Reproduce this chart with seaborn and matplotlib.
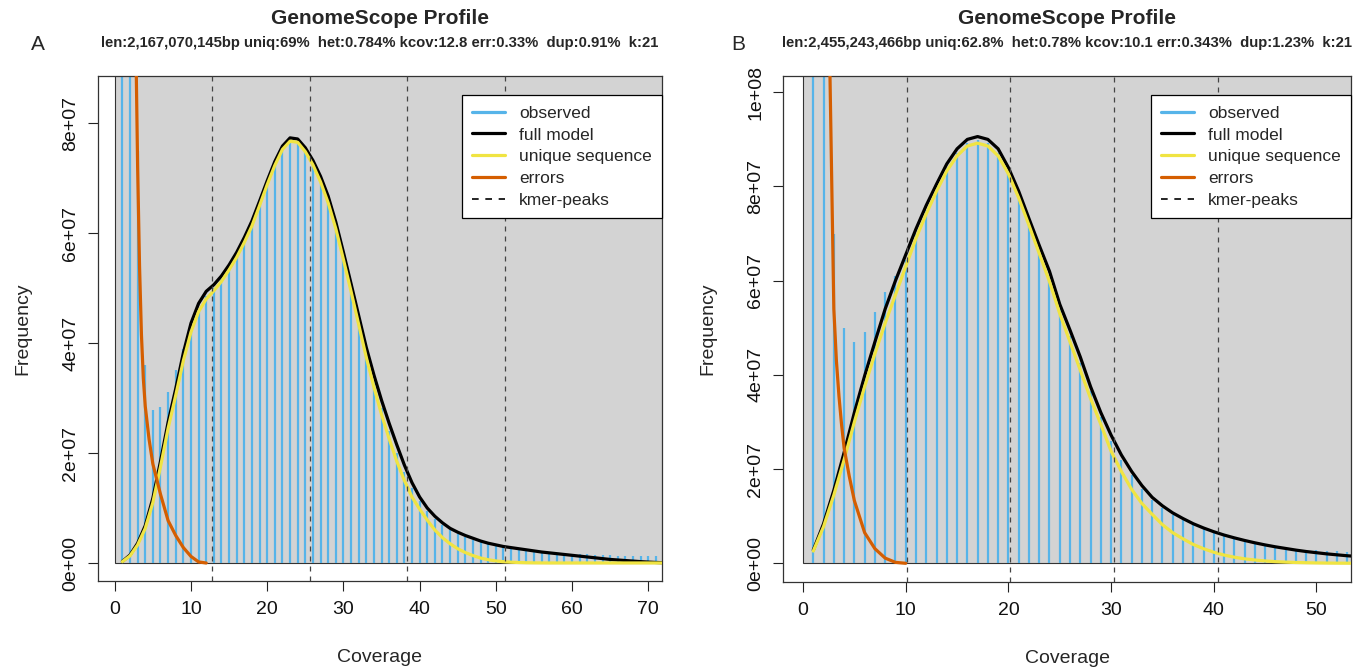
import numpy as np
import matplotlib
matplotlib.use("Agg")
import matplotlib.pyplot as plt
from matplotlib.patches import Rectangle
from matplotlib.lines import Line2D
import seaborn as sns

# ---- panel A: k-mer histogram + model fit ----
cov_a = list(range(1, 73))
obs_a = [2.5e8, 1.5e8, 7.5e7, 3.6e7, 2.78e7, 2.84e7, 3.11e7, 3.51e7, 3.9e7, 4.3e7,
         4.6e7, 4.85e7, 5.0e7, 5.18e7, 5.38e7, 5.6e7, 5.88e7, 6.17e7, 6.55e7, 6.92e7,
         7.27e7, 7.55e7, 7.7e7, 7.68e7, 7.5e7, 7.27e7, 6.98e7, 6.6e7, 6.12e7, 5.58e7,
         5.0e7, 4.4e7, 3.82e7, 3.3e7, 2.82e7, 2.4e7, 2.0e7, 1.65e7, 1.36e7, 1.12e7,
         9.4e6, 8.0e6, 6.9e6, 6.0e6, 5.3e6, 4.7e6, 4.2e6, 3.8e6, 3.5e6, 3.2e6,
         3.0e6, 2.8e6, 2.6e6, 2.45e6, 2.3e6, 2.15e6, 2.0e6, 1.9e6, 1.8e6, 1.7e6,
         1.6e6, 1.55e6, 1.5e6, 1.45e6, 1.4e6, 1.35e6, 1.3e6, 1.28e6, 1.25e6, 1.22e6,
         1.2e6, 1.18e6]
full_a = [3e5, 1.45e6, 3.6e6, 6.8e6, 1.18e7, 1.85e7, 2.56e7, 3.17e7, 3.82e7, 4.36e7,
          4.72e7, 4.94e7, 5.06e7, 5.22e7, 5.42e7, 5.65e7, 5.92e7, 6.22e7, 6.58e7, 6.95e7,
          7.3e7, 7.58e7, 7.73e7, 7.71e7, 7.55e7, 7.32e7, 7.03e7, 6.67e7, 6.2e7, 5.65e7,
          5.08e7, 4.5e7, 3.92e7, 3.42e7, 2.96e7, 2.54e7, 2.15e7, 1.78e7, 1.46e7, 1.2e7,
          1.0e7, 8.5e6, 7.3e6, 6.3e6, 5.6e6, 5.0e6, 4.5e6, 4.0e6, 3.6e6, 3.3e6,
          3.0e6, 2.8e6, 2.6e6, 2.4e6, 2.2e6, 2.0e6, 1.85e6, 1.7e6, 1.55e6, 1.4e6,
          1.25e6, 1.1e6, 9.5e5, 8e5, 6.5e5, 5.5e5, 4.5e5, 3.5e5, 2.5e5, 1.7e5,
          1e5, 5e4]
uniq_a = [2.5e5, 1.3e6, 3.3e6, 6.3e6, 1.1e7, 1.75e7, 2.45e7, 3.05e7, 3.68e7, 4.2e7,
          4.57e7, 4.8e7, 4.95e7, 5.12e7, 5.33e7, 5.56e7, 5.83e7, 6.13e7, 6.5e7, 6.88e7,
          7.23e7, 7.52e7, 7.67e7, 7.65e7, 7.48e7, 7.24e7, 6.93e7, 6.55e7, 6.08e7, 5.52e7,
          4.94e7, 4.34e7, 3.74e7, 3.2e7, 2.7e7, 2.26e7, 1.85e7, 1.5e7, 1.2e7, 9.8e6,
          7.8e6, 6.0e6, 4.6e6, 3.5e6, 2.6e6, 1.9e6, 1.35e6, 9e5, 6e5, 3.8e5,
          2.4e5, 1.5e5, 9e4, 5e4, 3e4, 2e4, 1e4, 1e4, 1e4, 1e4,
          1e4, 1e4, 1e4, 1e4, 1e4, 1e4, 1e4, 1e4, 1e4, 1e4,
          1e4, 1e4]
err_cov_a = [1, 2, 2.5, 3, 3.25, 3.5, 3.75, 4, 4.5, 5, 6, 7, 8, 9, 10, 11, 12]
err_a = [6e8, 2.6e8, 1.2e8, 7.2e7, 5.4e7, 4.15e7, 3.35e7, 2.85e7, 2.25e7, 1.8e7,
         1.25e7, 7.7e6, 5e6, 2.8e6, 1.2e6, 2e5, 0]
peaks_a = [12.8, 25.6, 38.4, 51.2]
sub_a = "len:2,167,070,145bp uniq:69%  het:0.784% kcov:12.8 err:0.33%  dup:0.91%  k:21"

# ---- panel B ----
cov_b = list(range(1, 55))
obs_b = [2.5e8, 1.5e8, 7.0e7, 5.0e7, 4.7e7, 4.92e7, 5.33e7, 5.75e7, 6.1e7, 6.45e7,
         7.0e7, 7.5e7, 8.0e7, 8.4e7, 8.72e7, 8.92e7, 8.98e7, 8.92e7, 8.72e7, 8.33e7,
         7.82e7, 7.25e7, 6.66e7, 6.08e7, 5.4e7, 4.82e7, 4.25e7, 3.65e7, 3.1e7, 2.6e7,
         2.2e7, 1.87e7, 1.58e7, 1.35e7, 1.17e7, 1.03e7, 9.2e6, 8.2e6, 7.3e6, 6.5e6,
         5.8e6, 5.2e6, 4.7e6, 4.2e6, 3.8e6, 3.4e6, 3.2e6, 3.0e6, 2.9e6, 2.8e6,
         2.7e6, 2.6e6, 2.5e6, 2.4e6]
full_b = [2.8e6, 8.4e6, 1.55e7, 2.35e7, 3.2e7, 3.98e7, 4.7e7, 5.4e7, 6.0e7, 6.55e7,
          7.1e7, 7.6e7, 8.05e7, 8.48e7, 8.8e7, 9.0e7, 9.06e7, 9.0e7, 8.8e7, 8.4e7,
          7.9e7, 7.32e7, 6.75e7, 6.2e7, 5.5e7, 4.95e7, 4.38e7, 3.75e7, 3.2e7, 2.72e7,
          2.3e7, 1.95e7, 1.65e7, 1.4e7, 1.22e7, 1.07e7, 9.5e6, 8.4e6, 7.5e6, 6.7e6,
          6.0e6, 5.4e6, 4.85e6, 4.35e6, 3.9e6, 3.5e6, 3.15e6, 2.8e6, 2.5e6, 2.25e6,
          2.0e6, 1.8e6, 1.6e6, 1.45e6]
uniq_b = [2.6e6, 7.8e6, 1.45e7, 2.2e7, 3.0e7, 3.75e7, 4.45e7, 5.1e7, 5.7e7, 6.3e7,
          6.9e7, 7.42e7, 7.9e7, 8.33e7, 8.65e7, 8.86e7, 8.92e7, 8.86e7, 8.65e7, 8.27e7,
          7.76e7, 7.18e7, 6.58e7, 5.98e7, 5.3e7, 4.7e7, 4.1e7, 3.5e7, 2.95e7, 2.38e7,
          1.95e7, 1.57e7, 1.27e7, 1.04e7, 8.2e6, 6.5e6, 5.2e6, 4.0e6, 3.1e6, 2.35e6,
          1.75e6, 1.3e6, 9.5e5, 7e5, 5e5, 3.5e5, 2.5e5, 1.7e5, 1.2e5, 8e4,
          5e4, 3e4, 2e4, 1e4]
err_cov_b = [1, 2, 2.5, 3, 3.25, 3.5, 3.75, 4, 4.5, 5, 6, 7, 8, 9, 10]
err_b = [5e8, 1.7e8, 1.2e8, 5.4e7, 4.3e7, 3.55e7, 2.95e7, 2.45e7, 1.85e7, 1.33e7,
         6.5e6, 3.1e6, 1.1e6, 2e5, 0]
peaks_b = [10.1, 20.2, 30.3, 40.4]
sub_b = "len:2,455,243,466bp uniq:62.8%  het:0.78% kcov:10.1 err:0.343%  dup:1.23%  k:21"

C_OBS = "#56B4E9"
C_FULL = "black"
C_UNIQ = "#F0E442"
C_ERR = "#D55E00"

sns.set_style("white")
plt.rcParams['font.family'] = ['Liberation Sans', 'DejaVu Sans']

W, H = 1367, 667
fig = plt.figure(figsize=(W / 100, H / 100), dpi=100)


def px_axes(x0, y0, x1, y1):
    return fig.add_axes([x0 / W, 1 - y1 / H, (x1 - x0) / W, (y1 - y0) / H])


def draw_panel(ax, cov, obs, full, uniq, err_cov, err, peaks, xlim, ylim, xticks, yticks, ylabels):
    ax.set_xlim(*xlim)
    ax.set_ylim(*ylim)
    # grey background rectangle starting at (0, 0)
    ax.add_patch(Rectangle((0, 0), 1000, 1e10, facecolor="lightgrey",
                           edgecolor="#333333", linewidth=0.8, zorder=0))
    # observed histogram, drawn as vertical lines
    ax.vlines(cov, 0, obs, color=C_OBS, linewidth=1.6, zorder=1)
    sns.lineplot(x=cov, y=full, color=C_FULL, linewidth=2.3, ax=ax,
                 estimator=None, sort=False, zorder=3)
    sns.lineplot(x=cov, y=uniq, color=C_UNIQ, linewidth=2.3, ax=ax,
                 estimator=None, sort=False, zorder=4)
    sns.lineplot(x=err_cov, y=err, color=C_ERR, linewidth=2.3, ax=ax,
                 estimator=None, sort=False, zorder=5)
    for p in peaks:
        ax.axvline(p, color="#444444", linewidth=0.9, linestyle=(0, (4, 4)), zorder=6)

    ax.set_xticks(xticks)
    ax.set_xticklabels([str(t) for t in xticks])
    ax.set_yticks(yticks)
    ax.set_yticklabels(ylabels, rotation=90, va="center")
    ax.tick_params(direction="out", length=7.5, width=0.8, labelsize=14, pad=6,
                   bottom=True, left=True, colors="#222222")
    ax.tick_params(axis="x", labelcolor="#111111", pad=7)
    ax.tick_params(axis="y", labelcolor="#111111")
    for s in ax.spines.values():
        s.set_visible(True)
        s.set_color("#333333")
        s.set_linewidth(0.9)
    ax.grid(False)
    ax.set_xlabel("Coverage", fontsize=14, labelpad=22)
    ax.set_ylabel("Frequency", fontsize=14, labelpad=22)

    handles = [Line2D([], [], color=C_OBS, lw=2.3),
               Line2D([], [], color=C_FULL, lw=2.3),
               Line2D([], [], color=C_UNIQ, lw=2.3),
               Line2D([], [], color=C_ERR, lw=2.3),
               Line2D([], [], color="black", lw=1.2, linestyle=(0, (4, 4)))]
    labels = ["observed", "full model", "unique sequence", "errors", "kmer-peaks"]
    leg = ax.legend(handles, labels, loc="upper right", bbox_to_anchor=(1.0, 0.962),
                    borderaxespad=0, fontsize=12.5, frameon=True, fancybox=False,
                    edgecolor="black", framealpha=1, handlelength=1.9,
                    handletextpad=0.8, labelspacing=0.38, borderpad=0.6)
    leg.get_frame().set_linewidth(0.9)
    leg.set_zorder(10)


# panel A
axA = px_axes(98, 76, 662, 581)
draw_panel(axA, cov_a, obs_a, full_a, uniq_a, err_cov_a, err_a, peaks_a,
           (-2.2, 71.8), (-3.27e6, 8.855e7), [0, 10, 20, 30, 40, 50, 60, 70],
           [0, 2e7, 4e7, 6e7, 8e7], ["0e+00", "2e+07", "4e+07", "6e+07", "8e+07"])

# panel B
axB = px_axes(783, 76, 1351, 582)
draw_panel(axB, cov_b, obs_b, full_b, uniq_b, err_cov_b, err_b, peaks_b,
           (-1.95, 53.36), (-3.97e6, 1.0346e8), [0, 10, 20, 30, 40, 50],
           [0, 2e7, 4e7, 6e7, 8e7, 1e8],
           ["0e+00", "2e+07", "4e+07", "6e+07", "8e+07", "1e+08"])

# titles, subtitles and panel letters
for cx, sub, letter, lx in [(380, sub_a, "A", 38), (1067, sub_b, "B", 738)]:
    fig.text(cx / W, 1 - 19 / H, "GenomeScope Profile", ha="center", va="center",
             fontsize=15, fontweight="bold")
    fig.text(cx / W, 1 - 43 / H, sub, ha="center", va="center",
             fontsize=10.7, fontweight="bold")
    fig.text(lx / W, 1 - 45 / H, letter, ha="center", va="center", fontsize=15)

fig.savefig("out.png", dpi=100)
